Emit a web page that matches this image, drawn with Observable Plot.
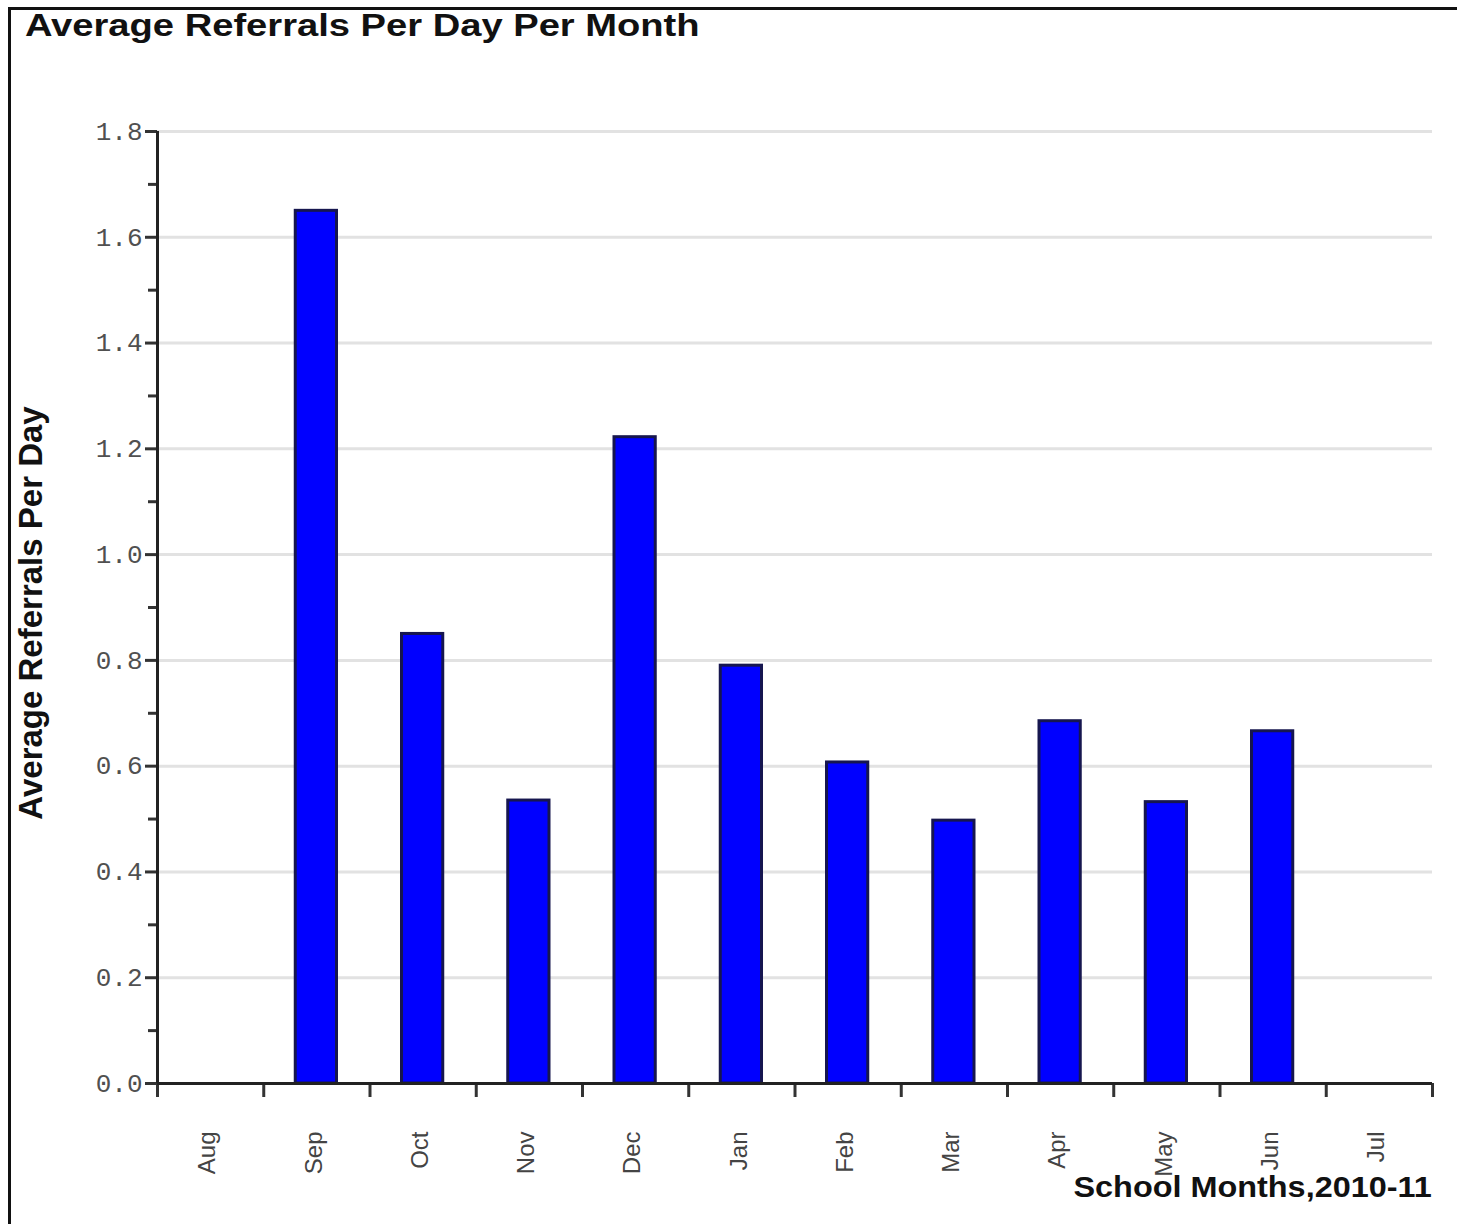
<!DOCTYPE html>
<html>
<head>
<meta charset="utf-8">
<script src="https://cdn.jsdelivr.net/npm/d3@7"></script>
<script src="https://cdn.jsdelivr.net/npm/@observablehq/plot@0.6"></script>
<style>
  html, body { margin: 0; padding: 0; background: #fff; }
  #wrap { position: relative; width: 1457px; height: 1224px; overflow: hidden; background: #fff; }
  #chart { position: absolute; left: 0; top: 0; }
  #frame { position: absolute; left: 8px; top: 7px; width: 1449px; height: 1217px;
           border-left: 3px solid #111; border-top: 3px solid #111; box-sizing: border-box; }
  .ttl { position: absolute; font-family: "Liberation Sans", Arial, sans-serif; font-weight: bold;
         color: #111; line-height: 1; white-space: nowrap; }
  #title { left: 25px; top: 10px; font-size: 31px; transform: scaleX(1.23); transform-origin: left center; }
  #xtitle { right: 25px; top: 1172px; font-size: 30px; transform: scaleX(1.08); transform-origin: right center; }
  #ytitle { left: 30px; top: 613px; font-size: 33px; transform: translate(-50%, -50%) rotate(-90deg); }
</style>
</head>
<body>
<div id="wrap">
  <div id="chart"></div>
  <div id="frame"></div>
  <div id="title" class="ttl">Average Referrals Per Day Per Month</div>
  <div id="ytitle" class="ttl">Average Referrals Per Day</div>
  <div id="xtitle" class="ttl">School Months,2010-11</div>
</div>
<script>
const months = ["Aug","Sep","Oct","Nov","Dec","Jan","Feb","Mar","Apr","May","Jun","Jul"];
const values = [null, 1.65, 0.85, 0.535, 1.222, 0.79, 0.607, 0.497, 0.685, 0.532, 0.666, null];
const yTicks = [0, 0.2, 0.4, 0.6, 0.8, 1.0, 1.2, 1.4, 1.6, 1.8];
const yMinorTicks = [0.1, 0.3, 0.5, 0.7, 0.9, 1.1, 1.3, 1.5, 1.7];

const data = months
  .map((m, i) => ({month: m, index: i, value: values[i]}))
  .filter(d => d.value != null);

const chart = Plot.plot({
  width: 1457,
  height: 1224,
  marginLeft: 157,
  marginRight: 25,
  marginTop: 131,
  marginBottom: 141,
  style: {background: "transparent", overflow: "visible"},
  x: {domain: [0, months.length], axis: null},
  y: {domain: [0, 1.8], axis: null},
  marks: [
    Plot.ruleY(yTicks.slice(1), {stroke: "#e2e2e2", strokeWidth: 3}),
    Plot.rectY(data, {
      x1: "index", x2: d => d.index + 1, y: "value",
      insetLeft: 32, insetRight: 33,
      fill: "#0000ff", stroke: "#16164f", strokeWidth: 3
    }),
    Plot.axisY({
      ticks: yTicks, tickSize: 12, tickPadding: 3, tickFormat: d3.format(".1f"),
      fontSize: 26, fontFamily: "Liberation Mono, monospace", fill: "#505050",
      stroke: "#333", strokeWidth: 3, label: null
    }),
    Plot.axisY({
      ticks: yMinorTicks, tickSize: 9, tickFormat: () => "",
      stroke: "#333", strokeWidth: 3, label: null
    }),
    Plot.axisX({
      ticks: d3.range(months.length + 1), tickSize: 14, tickFormat: () => "",
      stroke: "#333", strokeWidth: 3, label: null
    }),
    Plot.axisX({
      ticks: months.map((m, i) => i + 0.5),
      tickFormat: d => months[Math.floor(d)],
      tickRotate: -90, tickSize: 0, tickPadding: 48, dx: -3,
      fontSize: 24, fontFamily: "Liberation Sans, Arial, sans-serif", fill: "#444", label: null
    }),
    Plot.ruleX([0], {stroke: "#222", strokeWidth: 3}),
    Plot.ruleY([0], {stroke: "#222", strokeWidth: 3})
  ]
});
document.getElementById("chart").appendChild(chart);
</script>
</body>
</html>
